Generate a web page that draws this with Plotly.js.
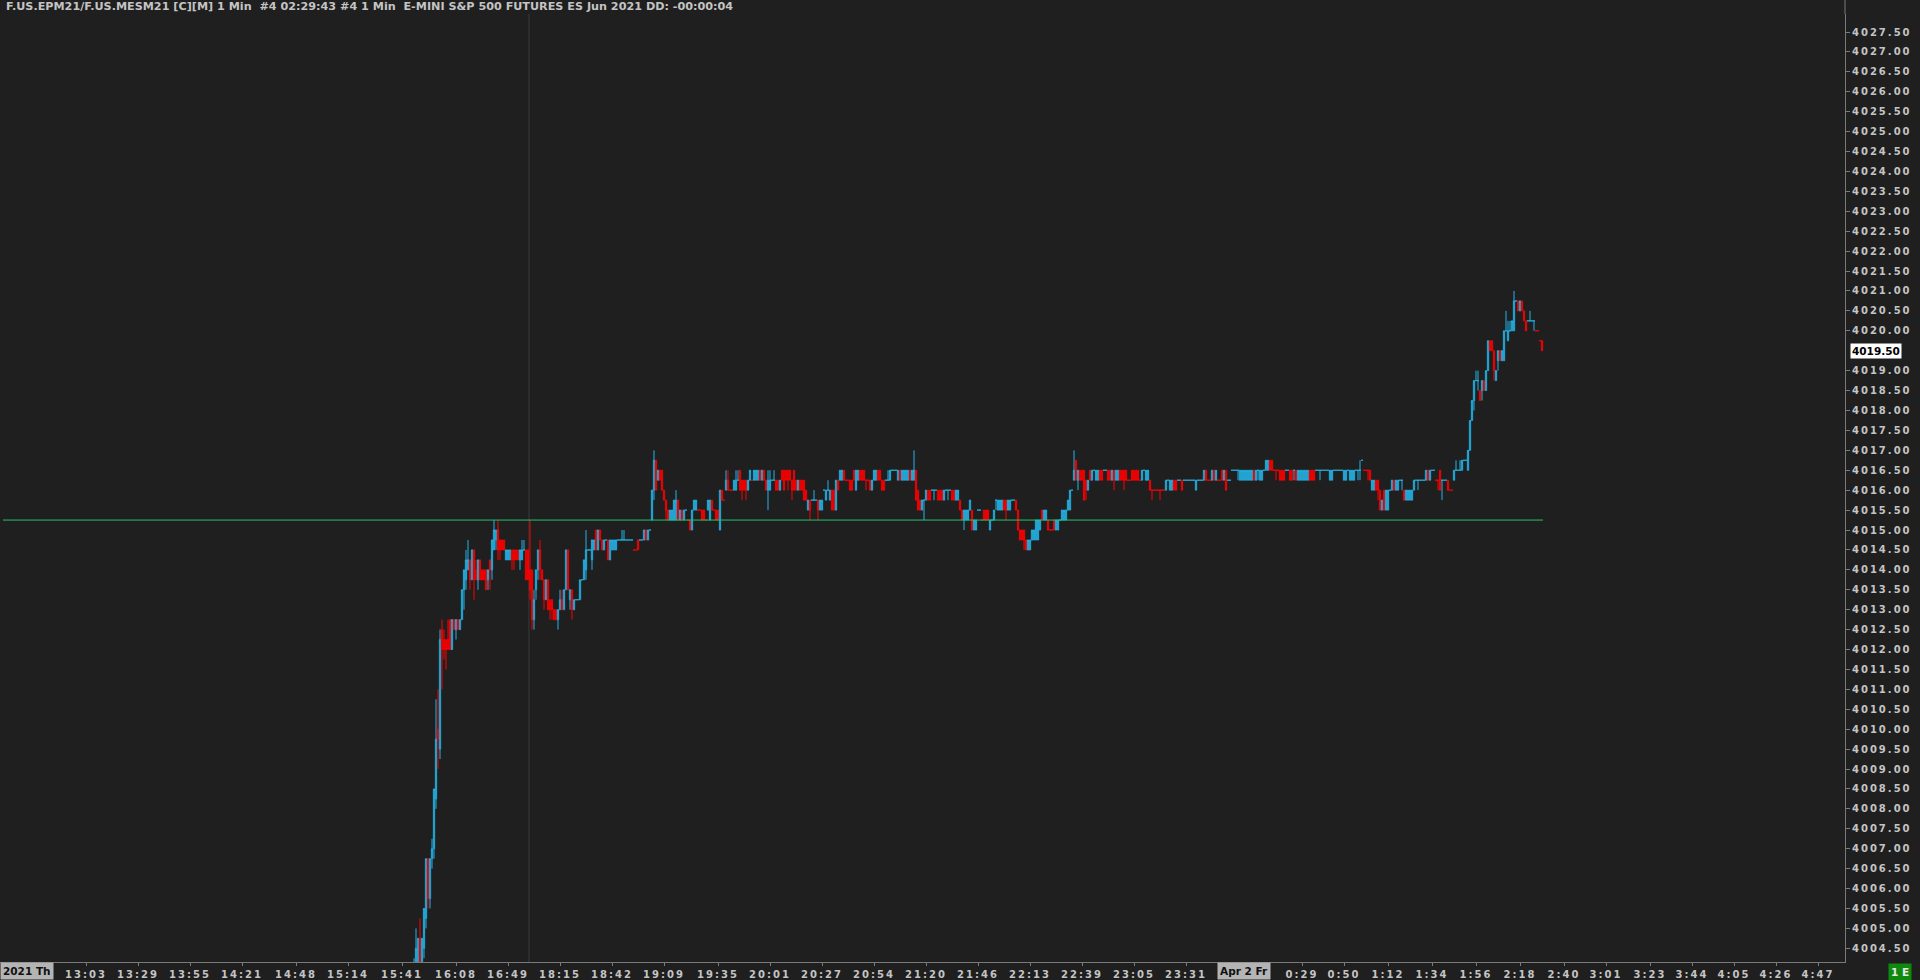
<!DOCTYPE html>
<html><head><meta charset="utf-8">
<script src="https://cdn.plot.ly/plotly-3.0.1.min.js"></script>
<style>
html,body{margin:0;padding:0;background:#1f1f1f;overflow:hidden;}
#chart{width:1920px;height:980px;}
.xtick text,.ytick text{letter-spacing:2px;}
</style></head><body><div id="chart"></div>
<script>
// ---- data: prices stored in quarter-point ticks above 4000 ([open, high, low, close]) ----
const priceBase = 4000;
const tickSize = 0.25;
const firstBarIndex = 207;          // bar slot of the first bar shown (1-minute bars)

// Apr 1 afternoon rally (bars 207-221)
const segRise = [
[12,17,10,16],[16,20,14,18],[16,19,16,19],[19,21,14,16],[15,19,14,19],
[18,22,17,22],[21,27,20,27],[27,27,22,23],[23,27,22,27],[27,29,26,28],
[28,34,27,34],[33,43,32,39],[40,44,36,39],[38,50,37,49],[50,51,44,48]
];
// bars 222-325
const segEvening = [
[49,50,47,48],[49,49,46,48],[49,51,48,48],[51,51,48,48],[48,51,48,51],[51,51,50,50],[50,51,49,51],[51,51,50,50],[50,51,50,51],[51,54,51,54],
[54,56,52,56],[55,58,54,57],[56,59,56,57],[57,57,54,55],[55,58,55,58],[58,58,53,55],[56,57,55,55],[55,57,54,57],[57,57,55,55],[56,56,55,55],
[56,56,55,55],[56,56,54,54],[55,56,54,56],[57,57,54,56],[56,59,55,59],[58,61,58,60],[59,60,58,60],[60,61,57,58],[59,59,57,58],[59,59,58,58],
[59,59,58,58],[57,58,57,58],[57,58,57,58],[57,58,57,58],[58,58,56,57],[58,58,56,57],[58,58,57,57],[58,58,57,57],[57,58,56,58],[57,59,57,58],
[58,59,58,58],[58,58,55,55],[58,58,55,55],[56,61,53,54],[56,56,50,51],[51,54,50,53],[54,56,53,56],[56,58,55,58],[58,59,55,56],[56,56,55,55],
[55,55,52,53],[53,55,53,55],[55,55,52,52],[53,53,51,52],[53,53,51,52],[52,52,51,51],[52,52,51,51],[51,52,50,52],[52,54,52,53],[53,54,52,52],
[52,54,52,54],[54,58,54,58],[58,58,54,54],[53,54,52,54],[54,54,51,52],[52,53,52,53],[53,53,53,53],[53,53,53,53],[53,55,53,55],[55,55,55,55],
[55,57,55,57],[56,60,55,58],[58,58,58,58],[58,58,58,58],[57,59,56,59],[58,59,58,59],[60,60,58,58],[58,60,58,60],[60,60,59,59],[59,59,58,58],
[58,59,58,59],[59,59,59,59],[59,59,57,57],[57,59,57,59],[58,59,58,59],[58,59,58,59],[58,59,58,59],[59,59,59,59],[59,59,59,59],[59,60,59,59],
[59,60,59,59],[59,59,59,59],[59,59,59,59],[59,59,59,59],[59,59,59,59],[58,58,58,58],[58,58,58,58],[59,59,58,58],[59,59,59,59],[59,59,59,59],
[59,60,59,60],[60,60,59,59],[59,60,59,60],[60,60,60,60]
];
// bars 326-519
const segNight = [
[61,64,61,64],[64,68,63,67],[67,67,64,64],[65,66,65,66],[66,66,65,65],[66,66,64,64],[64,64,63,63],[63,63,61,62],[62,62,61,61],[61,62,61,62],
[61,62,61,62],[61,63,61,63],[61,64,61,63],[63,63,61,61],[61,62,61,62],[62,62,61,61],[61,62,61,62],[62,62,62,62],[61,61,61,61],[61,61,60,60],
[60,62,60,62],[62,63,62,63],[62,63,62,63],[62,62,62,62],[62,62,62,62],[62,62,61,61],[62,62,61,61],[61,61,61,61],[62,63,62,63],[61,63,61,63],
[63,63,62,62],[62,62,62,62],[62,62,61,61],[62,62,61,61],[60,64,60,64],[64,64,63,63],[63,63,63,63],[64,66,64,65],[65,66,64,64],[64,64,64,64],
[64,64,64,64],[64,65,64,65],[64,66,64,65],[65,66,65,65],[66,66,64,64],[65,65,63,64],[65,65,64,64],[65,65,63,64],[64,65,64,65],[65,66,65,66],
[65,65,65,65],[65,66,65,66],[65,66,65,66],[65,66,65,66],[66,66,65,65],[65,66,65,66],[66,66,65,65],[65,65,64,64],[64,66,62,65],[64,66,64,65],
[65,65,65,65],[65,66,65,65],[65,65,64,64],[65,65,64,64],[64,65,64,65],[66,66,65,65],[66,66,64,64],[66,66,65,65],[66,66,64,65],[66,66,65,65],
[65,65,63,64],[66,66,64,64],[65,65,64,64],[64,65,64,65],[65,65,64,64],[65,65,64,64],[65,65,63,63],[64,64,63,63],[62,63,62,63],[63,63,61,62],
[63,63,63,63],[63,64,63,63],[63,63,63,63],[63,63,61,62],[62,63,62,63],[62,63,62,63],[64,64,64,64],[63,64,63,64],[64,65,64,64],[63,64,63,64],
[64,64,62,62],[64,64,62,62],[62,65,62,65],[65,65,64,64],[65,66,65,66],[65,66,65,66],[66,66,65,65],[65,65,65,65],[65,65,65,65],[65,65,64,64],
[65,65,64,64],[66,66,65,65],[64,66,64,66],[65,66,65,66],[66,66,65,65],[66,66,65,65],[66,66,65,65],[65,65,64,65],[65,65,65,65],[65,65,64,64],
[64,65,64,65],[65,66,65,66],[65,66,65,66],[66,66,65,65],[66,66,65,65],[65,65,64,64],[65,65,64,64],[65,65,65,65],[65,66,65,65],[65,66,65,66],
[66,66,66,66],[66,66,66,66],[66,66,66,66],[65,66,65,66],[66,66,65,65],[65,66,65,66],[65,66,65,66],[65,66,65,66],[65,66,65,66],[66,66,65,65],
[65,66,65,66],[65,68,65,66],[66,66,63,63],[64,64,62,62],[63,63,62,62],[62,63,62,63],[63,63,61,63],[63,64,63,64],[64,64,63,63],[64,64,63,63],
[64,64,64,64],[64,64,63,64],[64,64,64,64],[64,64,63,63],[64,64,63,63],[64,64,63,63],[63,64,63,64],[64,64,64,64],[64,64,63,64],[64,64,64,64],
[64,64,63,63],[64,64,63,63],[63,64,63,64],[63,64,63,64],[63,63,62,62],[62,62,61,61],[61,62,60,62],[61,62,61,62],[61,62,61,62],[62,63,62,63],
[62,62,60,60],[60,61,60,61],[60,61,60,61],[62,62,62,62],[62,62,62,62],[61,61,61,61],[62,62,61,61],[62,62,61,61],[62,62,61,61],[60,61,60,61],
[61,61,61,61],[61,62,61,62],[63,63,62,63],[62,63,62,63],[62,63,62,63],[62,63,62,63],[63,63,62,62],[63,63,61,62],[62,63,62,63],[62,63,62,63],
[63,63,63,63],[63,63,63,63],[63,63,62,62],[62,62,60,60],[60,60,59,59],[60,60,59,59],[60,60,58,59],[59,59,58,58],[58,59,58,59],[58,59,58,59],
[59,60,59,60],[59,60,59,60],[59,61,59,61],[59,61,59,61]
];
// bars 520-689
const segOvernight = [
[60,61,60,61],[62,62,61,61],[61,62,61,62],[61,62,61,62],[61,61,60,60],[60,60,60,60],[60,60,60,60],[61,61,60,60],[60,61,60,61],[60,61,60,61],
[61,61,61,61],[61,62,61,62],[61,62,61,62],[61,62,61,62],[62,63,62,63],[62,64,62,64],[64,64,64,64],[65,68,65,66],[67,67,65,65],[65,66,64,66],
[66,66,65,65],[66,66,65,65],[66,66,63,63],[65,65,63,64],[64,65,64,65],[66,66,65,65],[65,66,65,66],[66,66,66,66],[65,66,65,66],[65,66,65,66],
[66,66,65,65],[66,66,65,65],[66,66,66,66],[66,66,66,66],[66,66,65,65],[66,66,65,65],[65,66,65,66],[66,66,64,65],[65,66,65,66],[65,66,65,66],
[66,66,65,65],[66,66,65,65],[66,66,64,65],[66,66,65,65],[65,65,65,65],[65,65,65,65],[66,66,65,65],[66,66,65,65],[66,66,65,65],[66,66,65,65],
[65,65,65,65],[65,66,65,66],[66,66,66,66],[65,66,65,66],[65,66,65,66],[65,65,64,64],[64,64,63,64],[64,64,64,64],[64,64,64,64],[64,64,64,64],
[64,64,63,64],[64,64,64,64],[64,64,64,64],[64,65,64,65],[65,65,65,65],[64,65,64,65],[64,65,64,65],[65,65,64,64],[65,65,64,64],[65,65,65,65],
[65,65,65,65],[65,65,64,64],[65,65,65,65],[65,65,65,65],[65,65,65,65],[65,65,65,65],[65,65,65,65],[65,65,65,65],[64,65,64,65],[65,65,65,65],
[65,65,65,65],[65,65,65,65],[65,66,65,66],[66,66,65,65],[65,65,65,65],[65,65,65,65],[65,66,65,66],[66,66,65,65],[65,66,65,66],[65,65,65,65],
[65,65,65,65],[66,66,65,65],[65,66,65,66],[66,66,64,64],[65,65,65,65],[65,65,65,65],[66,66,66,66],[66,66,66,66],[66,66,66,66],[66,66,65,66],
[65,66,65,66],[65,66,65,66],[65,66,65,66],[65,66,65,66],[65,66,65,66],[65,66,65,66],[65,66,65,66],[66,66,65,65],[65,66,65,66],[66,66,65,66],
[65,66,65,66],[65,66,65,66],[66,66,66,66],[66,67,66,67],[66,67,66,67],[67,67,66,66],[67,67,66,66],[66,66,66,66],[66,66,65,66],[66,66,66,66],
[66,66,65,65],[66,66,65,65],[66,66,65,65],[66,66,66,66],[66,66,66,66],[66,66,65,65],[66,66,65,65],[66,66,65,66],[66,66,65,65],[65,66,65,66],
[65,66,65,66],[65,66,65,66],[65,66,65,66],[65,66,65,66],[65,66,65,66],[66,66,65,65],[66,66,65,65],[66,66,65,65],[66,66,66,66],[66,66,66,66],
[66,66,65,66],[66,66,66,66],[66,66,66,66],[66,66,66,66],[66,66,66,66],[65,66,65,66],[65,66,65,66],[66,66,66,66],[66,66,66,66],[66,66,66,66],
[66,66,66,66],[66,66,66,66],[65,66,65,66],[65,66,65,66],[66,66,66,66],[65,66,65,66],[65,66,65,66],[65,66,65,66],[66,66,66,66],[66,66,65,66],
[66,67,65,66],[67,67,67,67],[66,66,66,66],[66,66,66,66],[66,66,65,66],[66,66,65,65],[64,65,64,65],[64,65,64,65],[65,65,64,64],[65,65,63,64]
];
// Apr 2 early morning (bars 690-771)
const segMorning = [
[64,64,62,62],[62,63,62,63],[64,64,62,62],[62,64,62,64],[62,64,62,64],[64,64,64,64],[64,65,64,65],[65,65,64,64],[64,65,64,65],[64,65,64,65],
[65,65,65,65],[65,65,64,65],[64,64,63,63],[63,64,63,64],[63,64,63,64],[63,64,63,64],[63,64,63,64],[64,65,64,65],[65,65,65,65],[65,65,64,65],
[65,65,65,65],[65,65,65,65],[65,65,65,65],[65,66,65,66],[66,66,65,65],[65,66,65,66],[66,66,66,66],[66,66,66,66],[65,65,65,65],[65,65,64,65],
[66,66,64,64],[65,65,63,65],[65,65,65,65],[65,65,65,65],[65,65,64,64],[64,64,64,64],[64,64,64,64],[65,66,65,66],[66,67,66,66],[66,66,66,66],
[66,67,66,66],[66,67,66,67],[67,67,67,67],[67,67,67,67],[66,68,66,68],[68,71,68,71],[71,73,71,73],[73,75,72,75],[75,76,75,75],[75,76,74,75],
[74,74,73,73],[74,75,73,75],[75,75,74,74],[74,76,74,76],[76,79,76,79],[79,79,78,78],[79,79,78,78],[78,78,75,76],[75,76,75,76],[77,78,76,78],
[78,78,77,77],[77,78,77,78],[77,80,77,80],[80,82,80,80],[79,81,79,80],[80,81,80,80],[80,81,80,81],[80,84,80,83],[83,83,83,83],[83,83,82,82],
[82,83,82,83],[83,83,82,82],[82,82,81,81],[81,81,80,80],[81,81,81,81],[81,82,81,81],[81,81,81,81],[81,81,80,81],[80,80,80,80],[80,80,80,80],
[79,79,79,79],[79,79,78,78]
];

// time-axis labels (bar slot of each labelled minute)
const timeTickBars = [43,69,95,121,148,174,201,228,254,280,306,332,359,385,411,437,463,489,515,541,567,593,
                      651,672,694,716,738,760,782,803,825,846,867,888,909];
const timeTickText = ['13:03','13:29','13:55','14:21','14:48','15:14','15:41','16:08','16:49','18:15','18:42','19:09',
                      '19:35','20:01','20:27','20:54','21:20','21:46','22:13','22:39','23:05','23:31',
                      '0:29','0:50','1:12','1:34','1:56','2:18','2:40','3:01','3:23','3:44','4:05','4:26','4:47'];
const priceScaleMin = 4004.5, priceScaleMax = 4027.5, priceScaleStep = 0.5;   // right-hand price labels
const dayStartBar = 622;            // Apr 2 session date marker
const dayLabel = 'Apr 2 Fr';
const prevDayLabel = '2021 Th';
const referenceLevel = 4015.25;     // green horizontal level
const cursorBar = 264.5;            // grey vertical cursor
const titleText = 'F.US.EPM21/F.US.MESM21 [C][M] 1 Min \u00a0#4 02:29:43 #4 1 Min \u00a0E-MINI S&P 500 FUTURES ES Jun 2021 DD: -00:00:04';

// ---- build trace ----
const bars = [].concat(segRise, segEvening, segNight, segOvernight, segMorning);
const toPrice = v => priceBase + v * tickSize;
const xs = bars.map((b, i) => firstBarIndex + i);
const open = bars.map(b => toPrice(b[0]));
const high = bars.map(b => toPrice(b[1]));
const low = bars.map(b => toPrice(b[2]));
const close = bars.map(b => toPrice(b[3]));
const lastIdx = xs[xs.length - 1];
const lastPrice = close[close.length - 1];

// price labels; the last-price box takes the place of its own level label
const priceTicks = [];
for (let p = priceScaleMin; p <= priceScaleMax + 1e-9; p += priceScaleStep) {
  if (Math.abs(p - lastPrice) > 1e-6) priceTicks.push(p);
}

const axisGrey = '#7a7a7a';
const txtGrey = '#c4c4c4';
const fontFam = 'DejaVu Sans, Verdana, sans-serif';

const trace = {
  type: 'candlestick', x: xs, open: open, high: high, low: low, close: close,
  increasing: {line: {color: '#24b4e8', width: 1}, fillcolor: 'rgba(0,0,0,0)'},
  decreasing: {line: {color: '#ff0000', width: 1}, fillcolor: 'rgba(0,0,0,0)'},
  whiskerwidth: 0, hoverinfo: 'skip', showlegend: false
};

const layout = {
  width: 1920, height: 980,
  paper_bgcolor: '#1f1f1f', plot_bgcolor: '#1f1f1f',
  margin: {l: 0, r: 75, t: 14, b: 18, pad: 0},
  boxgap: 0.1,
  showlegend: false,
  font: {family: fontFam, size: 10, color: txtGrey, weight: 'bold'},
  xaxis: {
    range: [0, 922.5], rangeslider: {visible: false}, fixedrange: true,
    tickmode: 'array', tickvals: timeTickBars, ticktext: timeTickText,
    ticks: 'outside', ticklen: 3, tickcolor: axisGrey, tickwidth: 1,
    showline: true, linecolor: axisGrey, linewidth: 1,
    showgrid: false, zeroline: false,
    tickfont: {family: fontFam, size: 10, color: txtGrey, weight: 'bold'}
  },
  yaxis: {
    side: 'right', range: [4004.157, 4027.952], fixedrange: true,
    tickmode: 'array', tickvals: priceTicks, tickformat: '.2f',
    ticks: 'outside', ticklen: 4, tickcolor: axisGrey, tickwidth: 1,
    showline: true, linecolor: axisGrey, linewidth: 1,
    showgrid: false, zeroline: false,
    tickfont: {family: fontFam, size: 10, color: txtGrey, weight: 'bold'}
  },
  shapes: [
    {type: 'line', xref: 'x', yref: 'paper', x0: cursorBar, x1: cursorBar, y0: 0, y1: 1,
     line: {color: '#3a3a3a', width: 1}, layer: 'below'},
    {type: 'line', xref: 'x', yref: 'y', x0: 1.5, x1: lastIdx + 0.5, y0: referenceLevel, y1: referenceLevel,
     line: {color: '#1fc46c', width: 1}, layer: 'above'},
    {type: 'line', xref: 'paper', yref: 'paper', x0: 1, x1: 1, y0: 1, y1: 1.016,
     line: {color: axisGrey, width: 1}}
  ],
  annotations: [
    {xref: 'paper', x: 0.0027, xanchor: 'left', yref: 'paper', y: 1.0079, yanchor: 'middle',
     text: titleText, showarrow: false, borderpad: 0,
     font: {family: fontFam, size: 11.2, color: txtGrey, weight: 'bold'}},
    {xref: 'paper', x: 1, xanchor: 'left', xshift: 5, yref: 'y', y: lastPrice, yanchor: 'middle',
     text: lastPrice.toFixed(2), showarrow: false, bgcolor: '#ffffff', borderpad: 1,
     font: {family: fontFam, size: 10.5, color: '#000000', weight: 'bold'}},
    {xref: 'paper', x: 0, xanchor: 'left', yref: 'paper', y: -0.0095, yanchor: 'middle',
     text: prevDayLabel, showarrow: false, bgcolor: '#b4b4b4', borderpad: 2,
     font: {family: fontFam, size: 10.5, color: '#101010', weight: 'bold'}},
    {xref: 'x', x: dayStartBar, xanchor: 'center', yref: 'paper', y: -0.0095, yanchor: 'middle',
     text: dayLabel, showarrow: false, bgcolor: '#b4b4b4', borderpad: 2,
     font: {family: fontFam, size: 10.5, color: '#101010', weight: 'bold'}},
    {xref: 'paper', x: 1.0233, xanchor: 'left', yref: 'paper', y: -0.0105, yanchor: 'middle',
     text: '1 E', showarrow: false, bgcolor: '#0f8a0f', borderpad: 2,
     font: {family: fontFam, size: 10.5, color: '#e6e6e6', weight: 'bold'}}
  ]
};

Plotly.newPlot('chart', [trace], layout, {displayModeBar: false, staticPlot: true});
</script></body></html>
